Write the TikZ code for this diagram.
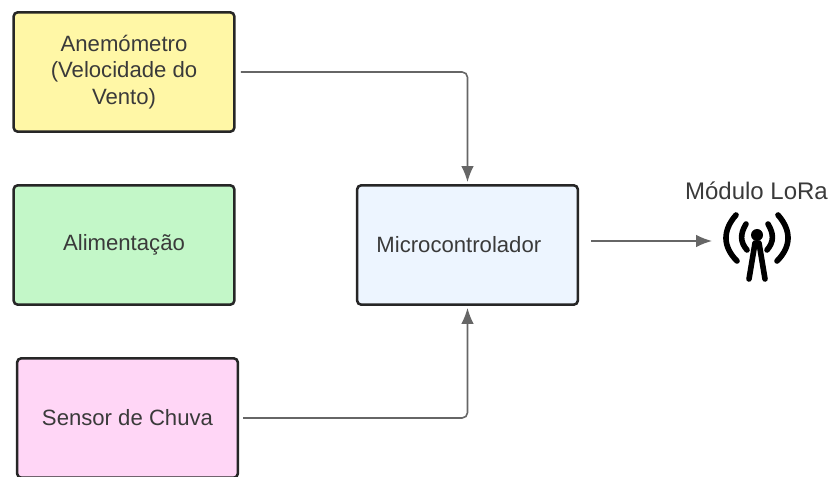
\documentclass[tikz,border=0pt]{standalone}
\usepackage{fontspec}
\setmainfont{Liberation Sans}
\usetikzlibrary{arrows.meta,positioning}
\definecolor{boxyellow}{HTML}{FFF7A6}
\definecolor{boxgreen}{HTML}{C3F7C8}
\definecolor{boxpink}{HTML}{FFD6F6}
\definecolor{boxblue}{HTML}{EDF5FF}
\definecolor{textgray}{HTML}{3A3A3A}
\definecolor{linegray}{HTML}{666666}
\begin{document}
\begin{tikzpicture}[
    x=0.75pt,y=-0.75pt,
    myblock/.style={
    rectangle,
    draw=black!85,
    line width=1.9pt,
    rounded corners=3pt,
    minimum width=165.5pt,
    minimum height=89.5pt,
    align=center,
    inner sep=0pt,
    text=textgray,
    font=\fontsize{16.6}{20}\selectfont},
    myarrow/.style={-{Latex[length=12pt,width=9.5pt]},draw=linegray,line width=1.2pt,rounded corners=4pt},
    mywave/.style={line width=4.2pt,line cap=round,black},
    ]
    \useasboundingbox (0,0) rectangle (832,477);
    \node[myblock, fill=boxyellow] (anemo) at (124,72) {Anemómetro\\(Velocidade do\\Vento)};
    \node[myblock, fill=boxgreen] (alim) at (124,245) {\raisebox{-1pt}{Alimentação}};
    \node[myblock, fill=boxpink] (chuva) at (127.5,418) {Sensor de Chuva};
    \node[myblock, fill=boxblue] (micro) at (467.5,245) {\hspace*{-13pt}Microcontrolador};
    \node[text=textgray, font=\fontsize{18}{20}\selectfont] (lora) at (756.5,191) {Módulo LoRa};
    \coordinate (icon) at (757,235);
    \coordinate (iconin) at (712,241);

    \draw[myarrow, shorten <=4pt, shorten >=1.5pt] (anemo.east) -| (micro.north);
    \draw[myarrow, shorten <=3pt, shorten >=1.5pt] (chuva.east) -| (micro.south);
    \draw[myarrow, rounded corners=0pt, shorten <=9pt] (micro.east |- iconin) -- (iconin);

    % antenna
    \fill[black] (icon) circle (6);
    \draw[mywave] ([shift={(-2,8)}]icon) -- ([shift={(-8,44)}]icon);
    \draw[mywave] ([shift={(2,8)}]icon) -- ([shift={(8,44)}]icon);
    \draw[mywave] ([shift={(-11,-11)}]icon) .. controls ([shift={(-17,-1)}]icon) and ([shift={(-17,7)}]icon) .. ([shift={(-10,15)}]icon);
    \draw[mywave] ([shift={(11,-11)}]icon) .. controls ([shift={(17,-1)}]icon) and ([shift={(17,7)}]icon) .. ([shift={(10,15)}]icon);
    \draw[mywave] ([shift={(-21,-20)}]icon) .. controls ([shift={(-35,-4)}]icon) and ([shift={(-34,12)}]icon) .. ([shift={(-20,26)}]icon);
    \draw[mywave] ([shift={(21,-20)}]icon) .. controls ([shift={(35,-4)}]icon) and ([shift={(34,12)}]icon) .. ([shift={(20,26)}]icon);
\end{tikzpicture}
\end{document}
